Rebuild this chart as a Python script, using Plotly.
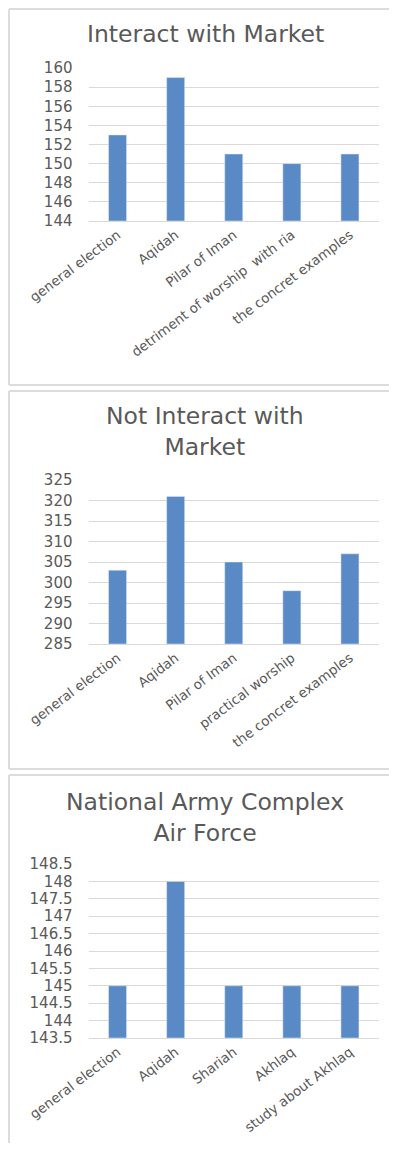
import plotly.graph_objects as go

# ---- data ----
cats1 = ["general election", "Aqidah", "Pilar of Iman", "detriment of worship  with ria", "the concret examples"]
vals1 = [153, 159, 151, 150, 151]
title1 = "Interact with Market"

cats2 = ["general election", "Aqidah", "Pilar of Iman", "practical worship", "the concret examples"]
vals2 = [303, 321, 305, 298, 307]
title2 = "Not Interact with<br>Market"

cats3 = ["general election", "Aqidah", "Shariah", "Akhlaq", "study about Akhlaq"]
vals3 = [145, 148, 145, 145, 145]
title3 = "National Army Complex<br>Air Force"

OFF = 8  # page body margin
W, H = 397 - 2 * OFF, 1151 - 2 * OFF
FONT = "DejaVu Sans"
GRAY = "#595959"
GRID = "#d9d9d9"
BORDER = "#dcdcdc"
BAR = "#5A8AC6"


def py(p):
    return 1 - (p - OFF) / H


def px_x(p):
    return (p - OFF) / W


fig = go.Figure()
panels = [
    (cats1, vals1, title1, (68, 221), [144, 160], 2, 34, (7, 385)),
    (cats2, vals2, title2, (480, 644), [285, 325], 5, 432, (391, 769)),
    (cats3, vals3, title3, (864, 1038), [143.5, 148.5], 0.5, 817, (775, None)),
]

for i, (cats, vals, title, (ytop, ybot), yr, dt, ty, (btop, bbot)) in enumerate(panels, start=1):
    sfx = "" if i == 1 else str(i)
    fig.add_trace(go.Bar(x=cats, y=[v - yr[0] for v in vals], base=yr[0],
                         marker=dict(color=BAR), width=0.31,
                         xaxis="x" + sfx, yaxis="y" + sfx, showlegend=False,
                         customdata=vals, hovertemplate="%{x}: %{customdata}<extra></extra>"))
    fig.update_layout(**{
        "xaxis" + sfx: dict(domain=[px_x(88.5), px_x(379)], anchor="y" + sfx,
                            tickangle=-37, tickfont=dict(family=FONT, size=13.5, color=GRAY),
                            showgrid=False, showline=True, linecolor=GRID, linewidth=1,
                            ticks="", fixedrange=True, automargin=False),
        "yaxis" + sfx: dict(domain=[py(ybot), py(ytop)], anchor="x" + sfx,
                            range=yr, dtick=dt, tick0=yr[0],
                            tickfont=dict(family=FONT, size=15, color=GRAY),
                            showgrid=True, gridcolor=GRID, gridwidth=1,
                            zeroline=False, showline=False, ticks="",
                            ticklabelstandoff=15, fixedrange=True, automargin=False),
    })
    fig.add_annotation(text=title, xref="paper", yref="paper", x=px_x(205), y=py(ty),
                       showarrow=False, xanchor="center", yanchor="middle",
                       font=dict(family=FONT, size=23.5, color=GRAY))
    # panel frame: left, top and (if visible) bottom edges
    ytop_f = py(max(btop, OFF + 1))
    ybot_f = py(bbot) if bbot is not None else -0.01
    line = dict(color=BORDER, width=2)
    fig.add_shape(type="line", xref="paper", yref="paper", x0=1 / W, x1=1 / W,
                  y0=ybot_f, y1=ytop_f, line=line, layer="below")
    fig.add_shape(type="line", xref="paper", yref="paper", x0=1 / W, x1=1.05,
                  y0=ytop_f, y1=ytop_f, line=line, layer="below")
    if bbot is not None:
        fig.add_shape(type="line", xref="paper", yref="paper", x0=1 / W, x1=1.05,
                      y0=ybot_f, y1=ybot_f, line=line, layer="below")

fig.update_layout(width=W, height=H, margin=dict(l=0, r=0, t=0, b=0, autoexpand=False),
                  paper_bgcolor="white", plot_bgcolor="white", bargap=0.69)
fig.write_html("out.html", config={"responsive": False})
